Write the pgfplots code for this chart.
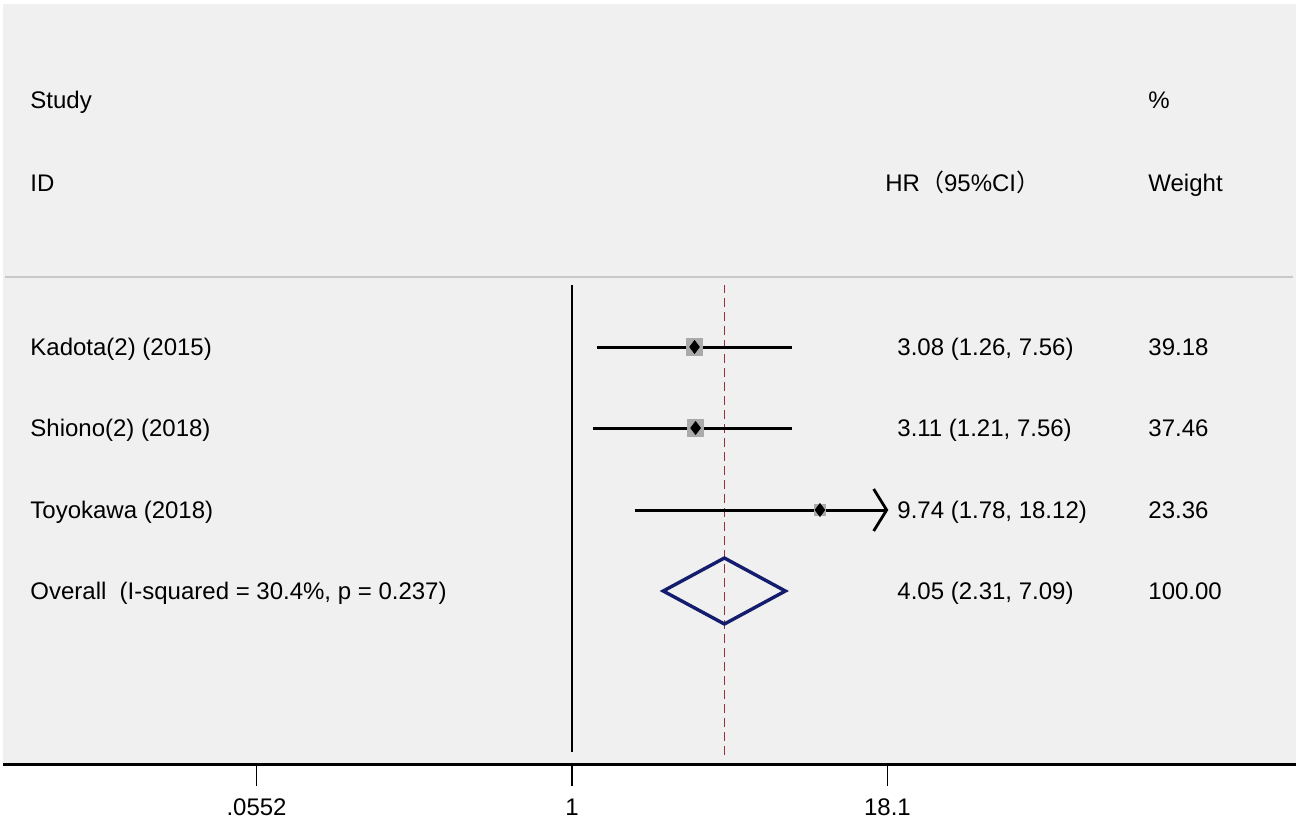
\documentclass[border=0pt]{standalone}
\usepackage{pgfplots}
\pgfplotsset{compat=1.18}
\usepackage{fontspec}
\setmainfont{Liberation Sans}
\newfontfamily\cjk{Noto Sans CJK SC}
\usetikzlibrary{arrows.meta}
\definecolor{bg}{RGB}{240,240,240}
\definecolor{sepgray}{RGB}{200,200,200}
\definecolor{boxgray}{RGB}{170,170,170}
\definecolor{refred}{RGB}{150,50,55}
\definecolor{navy}{RGB}{20,28,110}
\begin{document}
\begin{tikzpicture}
\path[use as bounding box] (-1.5pt,-28.5pt) rectangle (648.5pt,382pt);
\begin{axis}[
  at={(0,0)}, anchor=south west,
  scale only axis, width=646.5pt, height=380pt,
  xmode=log, xmin=0.00538, xmax=771, ymin=0, ymax=760,
  axis x line*=bottom, axis y line=none,
  axis background/.style={fill=bg},
  xtick={0.0552,1,18.1}, xticklabels={.0552,1,18.1},
  minor xtick={},
  xtick align=outside, major tick length=11pt,
  x axis line style={line width=1.5pt},
  xtick style={black, line width=0.75pt},
  xticklabel style={font=\fontsize{12}{14}\selectfont, yshift=-3pt},
  clip=false,
]
% reference lines
\addplot[black, line width=1.1pt] coordinates {(1,12) (1,479)};
\addplot[refred, line width=0.85pt, dash pattern=on 4.5pt off 2.5pt] coordinates {(4.05,9) (4.05,479)};
% confidence intervals
\addplot[black, line width=1.5pt] coordinates {(1.26,417) (7.56,417)};
\addplot[black, line width=1.5pt] coordinates {(1.21,336) (7.56,336)};
\addplot[black, line width=1.5pt, -{Straight Barb[length=6.5pt,width=21pt,line width=1.4pt]}] coordinates {(1.78,254) (18.25,254)};
% weight boxes
\addplot[boxgray, only marks, mark=square*, mark size=4.2pt, mark options={fill=boxgray, draw=boxgray, line width=0pt}] coordinates {(3.08,417)};
\addplot[boxgray, only marks, mark=square*, mark size=4.1pt, mark options={fill=boxgray, draw=boxgray, line width=0pt}] coordinates {(3.11,336)};
\addplot[boxgray, only marks, mark=square*, mark size=2.6pt, mark options={fill=boxgray, draw=boxgray, line width=0pt}] coordinates {(9.74,254)};
% point estimates
\addplot[black, only marks, mark=diamond*, mark size=3.2pt, mark options={fill=black, draw=black}] coordinates {(3.08,417) (3.11,336) (9.74,254)};
% overall diamond
\addplot[navy, line width=1.7pt, line join=miter] coordinates {(2.31,173) (4.05,206) (7.09,173) (4.05,140) (2.31,173)} -- cycle;
\end{axis}
\draw[sepgray, line width=1pt] (1pt,243.5pt) -- (645pt,243.5pt);
\begin{scope}[every node/.style={anchor=base west, inner sep=0pt, font=\fontsize{12}{14}\selectfont}]
\node at (13.5pt,327.5pt) {Study};
\node at (13.5pt,286.5pt) {ID};
\node at (441pt,286.5pt) {HR{\cjk （}95\%CI{\cjk ）}};
\node at (572.5pt,327.5pt) {\%};
\node at (572.5pt,286.5pt) {Weight};
\node at (13.5pt,204.5pt) {Kadota(2) (2015)};
\node at (13.5pt,164pt) {Shiono(2) (2018)};
\node at (13.5pt,123pt) {Toyokawa (2018)};
\node at (13.5pt,82.5pt) {Overall\ \ (I-squared = 30.4\%, p = 0.237)};
\node at (447pt,204.5pt) {3.08 (1.26, 7.56)};
\node at (447pt,164pt) {3.11 (1.21, 7.56)};
\node at (447pt,123pt) {9.74 (1.78, 18.12)};
\node at (447pt,82.5pt) {4.05 (2.31, 7.09)};
\node at (572.5pt,204.5pt) {39.18};
\node at (572.5pt,164pt) {37.46};
\node at (572.5pt,123pt) {23.36};
\node at (572.5pt,82.5pt) {100.00};
\end{scope}
\end{tikzpicture}
\end{document}
